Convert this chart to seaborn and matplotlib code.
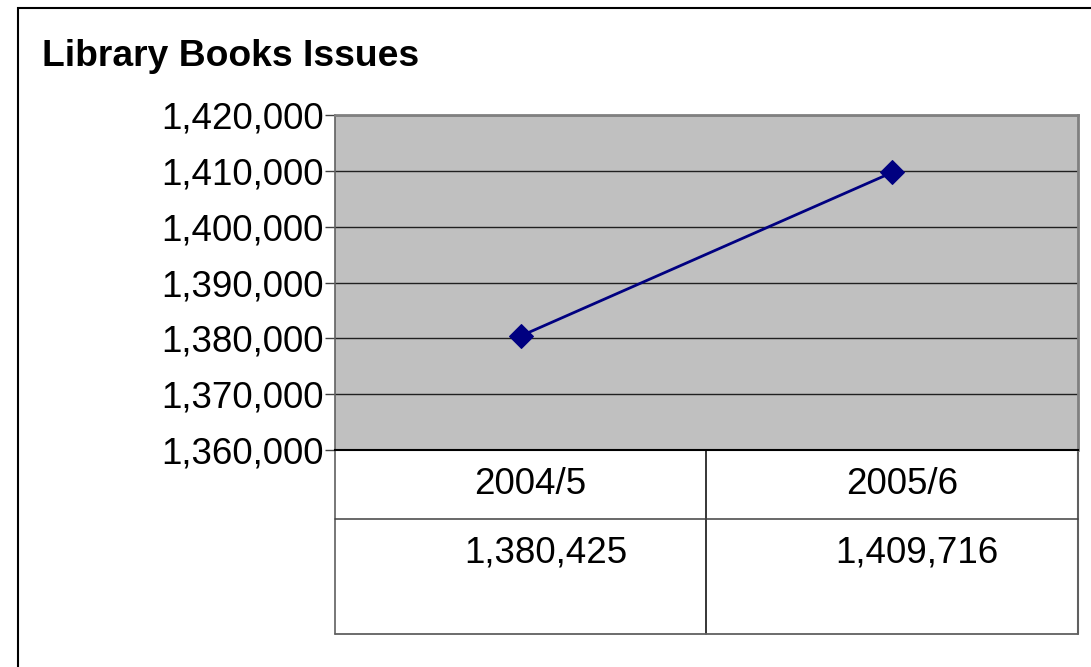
import matplotlib
matplotlib.use("Agg")
import matplotlib.pyplot as plt
import matplotlib.ticker as mticker
from matplotlib.patches import Rectangle
import seaborn as sns
import pandas as pd

# data
years = ["2004/5", "2005/6"]
issues = [1380425, 1409716]
y_ticks = [1360000, 1370000, 1380000, 1390000, 1400000, 1410000, 1420000]

df = pd.DataFrame({"Year": years, "Issues": issues})

sns.set_style("white")
plt.rcParams["font.family"] = ["Liberation Sans", "DejaVu Sans"]
plt.rcParams["text.color"] = "black"
plt.rcParams["axes.labelcolor"] = "black"

W, H = 1091, 667
fig = plt.figure(figsize=(W / 100, H / 100), dpi=100)
fig.patch.set_facecolor("white")

# plot area in pixel coordinates of the reference
left, right, top, bottom = 335, 1078, 115, 450
ax = fig.add_axes([left / W, 1 - bottom / H, (right - left) / W, (bottom - top) / H])
ax.set_facecolor("#C0C0C0")

sns.lineplot(data=df, x="Year", y="Issues", ax=ax, color="#000080", linewidth=2.0,
             marker="D", markersize=12, markeredgecolor="#000080", sort=False)

ax.set_xlim(-0.5, 1.5)
ax.set_ylim(y_ticks[0], y_ticks[-1])
ax.set_yticks(y_ticks)
ax.yaxis.set_major_formatter(mticker.FuncFormatter(lambda v, p: f"{int(v):,}"))
ax.yaxis.grid(True, color="#202020", linewidth=1.0)
ax.set_axisbelow(True)
ax.set_xticks([])
ax.set_xlabel("")
ax.set_ylabel("")
ax.tick_params(axis="y", left=True, length=7, width=1, pad=1, labelsize=26.5,
               colors="#404040", labelcolor="black")
for side in ["top", "right"]:
    ax.spines[side].set_color("#808080")
    ax.spines[side].set_linewidth(2)
ax.spines["left"].set_color("#606060")
ax.spines["left"].set_linewidth(1.2)
ax.spines["bottom"].set_color("black")
ax.spines["bottom"].set_linewidth(1.5)

# data table under the plot (axes coordinates)
row1 = -(519 - bottom) / (bottom - top)
row2 = -(634 - bottom) / (bottom - top)
mid = (706 - left) / (right - left)
kw = dict(transform=ax.transAxes, clip_on=False, color="black", linewidth=1.1)
ax.plot([0, 0], [0, row2], color="#606060", linewidth=1.2, transform=ax.transAxes, clip_on=False)
ax.plot([1, 1], [0, row2], color="#606060", linewidth=1.5, transform=ax.transAxes, clip_on=False)
ax.plot([mid, mid], [0, row2], **kw)
ax.plot([0, 1], [row1, row1], color="#404040", linewidth=1.1, transform=ax.transAxes, clip_on=False)
ax.plot([0, 1], [row2, row2], color="#606060", linewidth=1.3, transform=ax.transAxes, clip_on=False)

head_x = [(530 - left) / (right - left), (902 - left) / (right - left)]
val_x = [(546 - left) / (right - left), (917 - left) / (right - left)]
for i, yr in enumerate(years):
    ax.text(head_x[i], -(485 - bottom) / (bottom - top), yr, transform=ax.transAxes,
            ha="center", va="center", fontsize=26.5, color="black")
    ax.text(val_x[i], -(553 - bottom) / (bottom - top), f"{issues[i]:,}", transform=ax.transAxes,
            ha="center", va="center", fontsize=26.5, color="black")

# title
fig.text(42 / W, 1 - 66 / H, "Library Books Issues", fontsize=26.8, fontweight="bold",
         ha="left", va="baseline", color="black")

# outer chart border
fig.add_artist(Rectangle((18 / W, -0.1), 1.2, 1.1 - 8 / H, transform=fig.transFigure,
                         fill=False, edgecolor="black", linewidth=1.5))

fig.savefig("out.png", dpi=100)
